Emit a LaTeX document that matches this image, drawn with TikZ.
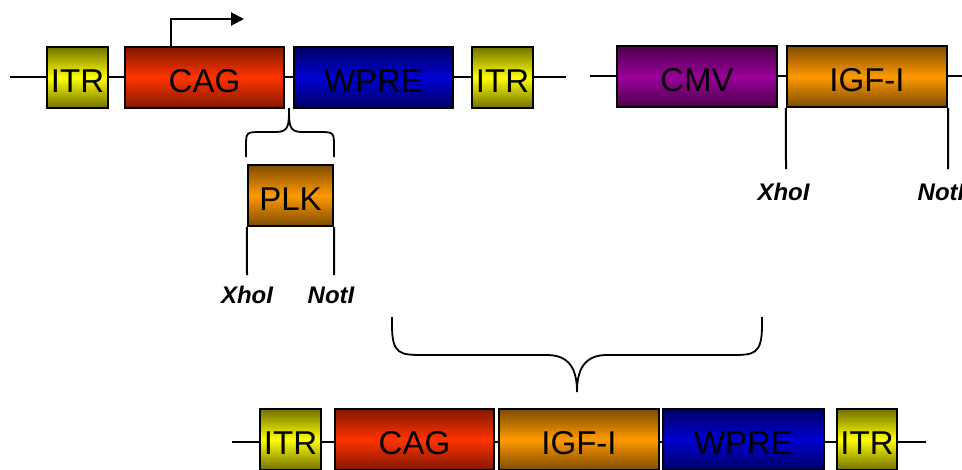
\documentclass[tikz,border=0pt]{standalone}
\usepackage{fontspec}
\setmainfont{Liberation Sans}
\usetikzlibrary{arrows.meta,positioning}

\definecolor{itrlight}{RGB}{255,255,0}
\definecolor{itrdark}{RGB}{112,112,0}
\definecolor{caglight}{RGB}{255,51,0}
\definecolor{cagdark}{RGB}{128,24,0}
\definecolor{wprelight}{RGB}{0,0,210}
\definecolor{wpredark}{RGB}{0,0,100}
\definecolor{cmvlight}{RGB}{153,0,153}
\definecolor{cmvdark}{RGB}{77,0,77}
\definecolor{igflight}{RGB}{255,153,0}
\definecolor{igfdark}{RGB}{125,75,0}

\begin{document}
\begin{tikzpicture}[x=1pt,y=-1pt,
    part/.style={draw,line width=1.6pt,inner sep=0pt,minimum height=61.5pt,
      text height=30pt,text depth=0pt,font=\fontsize{33}{33}\selectfont},
    itr/.style={part,top color=itrdark,bottom color=itrdark,middle color=itrlight,minimum width=61.5pt},
    cag/.style={part,top color=cagdark,bottom color=cagdark,middle color=caglight,minimum width=159.5pt},
    wpre/.style={part,top color=wpredark,bottom color=wpredark,middle color=wprelight,minimum width=159.5pt},
    cmv/.style={part,top color=cmvdark,bottom color=cmvdark,middle color=cmvlight,minimum width=160.5pt},
    igf/.style={part,top color=igfdark,bottom color=igfdark,middle color=igflight,minimum width=160.5pt},
    backbone/.style={line width=2pt},
    site/.style={line width=2pt},
    sitelabel/.style={inner sep=0pt,font=\fontsize{24}{24}\selectfont\bfseries\itshape},
    brace/.style={line width=1.8pt}]
    \useasboundingbox (0,0) rectangle (962,469);
    \coordinate (l1) at (10,77);
    \coordinate (r1) at (566,77);
    \coordinate (l2) at (590,76);
    \coordinate (r2) at (962,76);
    \coordinate (l3) at (232,442);
    \coordinate (r3) at (926,442);
    \draw[backbone] (l1) -- (r1);
    \draw[backbone] (l2) -- (r2);
    \draw[backbone] (l3) -- (r3);
    \node (itrA) at (77.5,77.5) [itr] {ITR};
    \node (cagA) at (204.5,77.5) [cag] {CAG};
    \node (wpreA) at (373.5,77.5) [wpre] {WPRE};
    \node (itrB) at (502.5,77.5) [itr] {ITR};
    \node (cmv) at (697,76.5) [cmv] {CMV};
    \node (igfA) at (867,76.5) [igf] {IGF-I};
    \node (plk) at (290.5,195.5) [igf,minimum width=85.5pt] {PLK};
    \node (itrC) at (290.5,439.5) [itr] {ITR};
    \node (cagB) at (414.5,439.5) [cag] {CAG};
    \node (igfB) at (579,439.5) [igf] {IGF-I};
    \node (wpreB) at (743.5,439.5) [wpre,minimum width=161.5pt] {WPRE};
    \node (itrD) at (867,439.5) [itr,minimum width=60.5pt] {ITR};
    \coordinate (pstart) at (171,47);
    \coordinate (tss) at (244,19);
    \draw[line width=2pt,-{Triangle[length=13pt,width=13pt]}] (pstart) |- (tss);
    \node (xhoA) at (247,295) [sitelabel] {XhoI};
    \node (notA) at (331,295) [sitelabel] {NotI};
    \node (xhoB) at (783.5,192) [sitelabel] {XhoI};
    \node (notB) at (941,192) [sitelabel] {NotI};
    \coordinate (xhoAend) at (247,275);
    \coordinate (notAend) at (334,275);
    \coordinate (xhoBend) at (786,169);
    \coordinate (notBend) at (948,169);
    \draw[site] (plk.south west) -- (xhoAend);
    \draw[site] (plk.south east) -- (notAend);
    \draw[site] (igfA.south west) -- (xhoBend);
    \draw[site] (igfA.south east) -- (notBend);
    \draw[brace] (246,157) -- (246,147) .. controls (246,132) and (246,132) .. (262,132)
      -- (276,132) .. controls (289,132) and (289,125) .. (289,108)
      .. controls (289,125) and (289,132) .. (302,132) -- (318,132)
      .. controls (334,132) and (334,132) .. (334,147) -- (334,157);
    \draw[brace] (392,317) -- (392,325) .. controls (392,355) and (400,355) .. (425,355)
      -- (547,355) .. controls (570,355) and (577,370) .. (577,392)
      .. controls (577,370) and (584,355) .. (607,355) -- (730,355)
      .. controls (754,355) and (762,355) .. (762,325) -- (762,317);
\end{tikzpicture}
\end{document}
